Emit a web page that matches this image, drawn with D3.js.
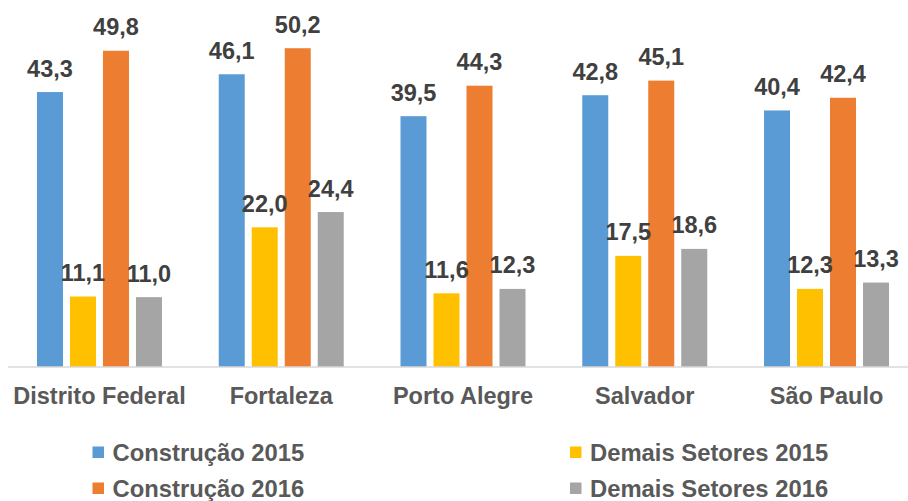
<!DOCTYPE html>
<html><head><meta charset="utf-8">
<script src="https://cdn.jsdelivr.net/npm/d3@7"></script>
<style>body{margin:0;background:#fff}svg{display:block}</style>
</head><body>
<svg id="chart" width="908" height="501"></svg>
<script>
const categories = ["Distrito Federal", "Fortaleza", "Porto Alegre", "Salvador", "São Paulo"];
const seriesNames = ["Construção 2015", "Demais Setores 2015", "Construção 2016", "Demais Setores 2016"];
const construcao2015 = [43.3, 46.1, 39.5, 42.8, 40.4];
const demais2015 = [11.1, 22.0, 11.6, 17.5, 12.3];
const construcao2016 = [49.8, 50.2, 44.3, 45.1, 42.4];
const demais2016 = [11.0, 24.4, 12.3, 18.6, 13.3];
const colors = ["#5B9BD5", "#FFC000", "#ED7D31", "#A5A5A5"];
const values = [construcao2015, demais2015, construcao2016, demais2016];

const svg = d3.select("#chart");
const baseY = 367;
const x0 = d3.scaleBand().domain(categories).range([8.6, 917.4]);
const x1 = d3.scaleBand().domain(seriesNames).range([-62.5, 62.5]).paddingInner(0.212).paddingOuter(0);
const y = d3.scaleLinear().domain([0, 50]).range([baseY, baseY - 317.5]);
const fmt = v => v.toFixed(1).replace(".", ",");

const data = [];
categories.forEach((c, i) => seriesNames.forEach((s, j) => data.push({c, s, j, v: values[j][i]})));

const g = svg.append("g");
g.selectAll("rect.bar").data(data).enter().append("rect")
  .attr("class", "bar")
  .attr("x", d => x0(d.c) + x0.bandwidth() / 2 + x1(d.s))
  .attr("width", x1.bandwidth())
  .attr("y", d => y(d.v))
  .attr("height", d => y(0) - y(d.v))
  .attr("fill", d => colors[d.j]);

g.selectAll("text.lbl").data(data).enter().append("text")
  .attr("class", "lbl")
  .attr("x", d => x0(d.c) + x0.bandwidth() / 2 + x1(d.s) + x1.bandwidth() / 2)
  .attr("y", d => y(d.v) - 15.5)
  .attr("text-anchor", "middle")
  .attr("font-family", "Liberation Sans, Arial, sans-serif")
  .attr("font-weight", "bold")
  .attr("font-size", 23.5)
  .attr("fill", "#404040")
  .text(d => fmt(d.v));

// axis
const xAxis = d3.axisBottom(x0).tickSize(0).tickPadding(0);
const ax = svg.append("g").attr("transform", `translate(0,${baseY})`).call(xAxis);
ax.select(".domain").attr("stroke", "#D9D9D9").attr("stroke-width", 1.5).attr("d", "M8,0H908");
ax.selectAll(".tick text")
  .attr("dy", 0).attr("y", 37)
  .attr("font-family", "Liberation Sans, Arial, sans-serif")
  .attr("font-weight", "bold")
  .attr("font-size", 23.5)
  .attr("fill", "#595959");

// legend
const legendOrder = [0, 1, 2, 3];
const legPos = [[92.5, 461], [570, 461], [92.5, 497], [570, 497]];
const legendNames = ["Construção 2015", "Demais Setores 2015", "Construção 2016", "Demais Setores 2016"];
const lg = svg.append("g").selectAll("g").data(legendOrder).enter().append("g")
  .attr("transform", (d, i) => `translate(${legPos[i][0]},${legPos[i][1]})`);
lg.append("rect").attr("x", 0).attr("y", -14.5).attr("width", 11.5).attr("height", 11.5)
  .attr("fill", d => colors[d]);
lg.append("text").attr("x", 20).attr("y", 0)
  .attr("font-family", "Liberation Sans, Arial, sans-serif")
  .attr("font-weight", "bold")
  .attr("font-size", 23.8)
  .attr("fill", "#595959")
  .text(d => legendNames[d]);
</script>
</body></html>
